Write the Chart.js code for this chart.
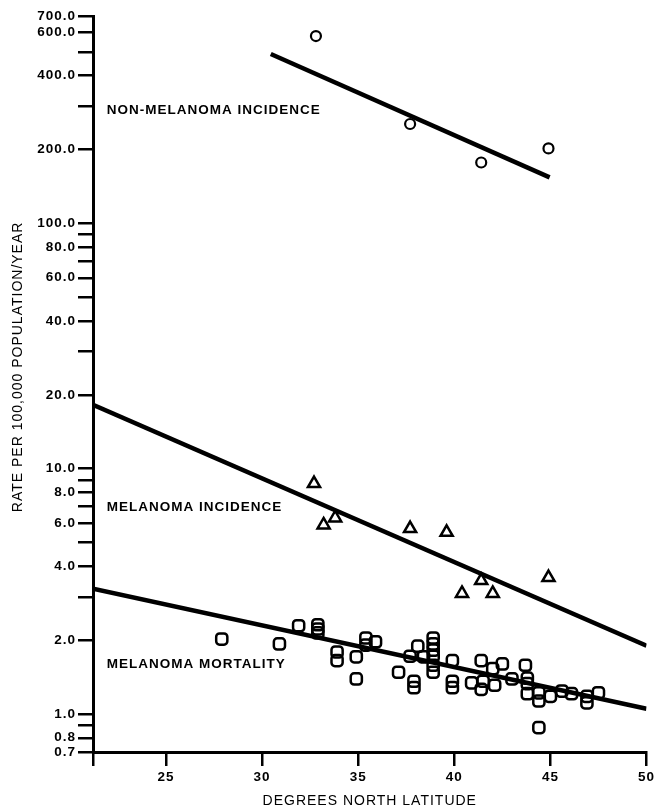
<!DOCTYPE html>
<html>
<head>
<meta charset="utf-8">
<script src="https://cdn.jsdelivr.net/npm/chart.js@4.4.1/dist/chart.umd.min.js"></script>
<style>
  html, body { margin: 0; padding: 0; background: #fff; }
  canvas { display: block; }
</style>
</head>
<body>
<canvas id="latChart" width="657" height="811"></canvas>
<script>
// non-melanoma incidence (circles)
var circleLat = [32.8, 37.7, 41.4, 44.9];
var circleRate = [580, 254, 177, 202];

// melanoma incidence (triangles)
var triLat = [32.7, 33.8, 33.2, 37.7, 39.6, 41.4, 40.4, 42.0, 44.9];
var triRate = [8.7, 6.3, 5.9, 5.7, 5.5, 3.5, 3.1, 3.1, 3.6];

// melanoma mortality (squares)
var sqLat = [27.9, 30.9, 31.9, 32.9, 32.9, 32.9, 33.9, 33.9, 34.9, 34.9,
             35.4, 35.4, 35.9, 37.1, 37.7, 37.9, 37.9, 38.1, 38.4, 38.9,
             38.9, 38.9, 38.9, 38.9, 38.9, 39.9, 39.9, 39.9, 40.9, 41.4,
             41.4, 41.5, 42.0, 42.1, 42.5, 43.0, 43.7, 43.8, 43.8, 43.8,
             44.4, 44.4, 44.4, 45.0, 45.6, 46.1, 46.9, 46.9, 47.5];
var sqRate = [2.02, 1.93, 2.29, 2.31, 2.22, 2.14, 1.79, 1.65, 1.71, 1.39,
              2.04, 1.91, 1.97, 1.48, 1.72, 1.36, 1.28, 1.89, 1.71, 2.04,
              1.93, 1.82, 1.72, 1.58, 1.48, 1.65, 1.36, 1.28, 1.34, 1.65,
              1.26, 1.36, 1.53, 1.31, 1.60, 1.39, 1.58, 1.40, 1.33, 1.21,
              1.22, 1.13, 0.88, 1.18, 1.24, 1.21, 1.18, 1.11, 1.22];

// fitted lines (end points)
var fitNonMelLat = [30.45, 44.96];
var fitNonMelRate = [490, 154];
var fitMelIncLat = [21.2, 50];
var fitMelIncRate = [18.2, 1.9];
var fitMelMortLat = [21.2, 50];
var fitMelMortRate = [3.24, 1.05];

// axes
var xMin = 21.2, xMax = 50;
var xTicks = [21.2, 25, 30, 35, 40, 45, 50];
var yMin = 0.7, yMax = 700;
var yTicks = [0.7, 0.8, 0.9, 1, 2, 3, 4, 5, 6, 7, 8, 9, 10, 20, 30, 40, 50, 60, 70, 80, 90,
              100, 200, 300, 400, 500, 600, 700];
var yLabeled = [0.7, 0.8, 1, 2, 4, 6, 8, 10, 20, 40, 60, 80, 100, 200, 400, 600, 700];

// text labels inside the plot
var seriesNames = ['NON-MELANOMA INCIDENCE', 'MELANOMA INCIDENCE', 'MELANOMA MORTALITY'];
var nameLat = [21.92, 21.92, 21.92];
var nameRate = [289, 6.93, 1.6];

function pts(xs, ys) {
    var out = [];
    for (let i = 0; i < xs.length; i++) {
        out.push({x: xs[i], y: ys[i]});
    }
    return out;
}

Chart.defaults.font.family = '"Liberation Sans", Arial, Helvetica, sans-serif';
Chart.defaults.color = '#000';

var spacing = {
    id: 'spacing',
    beforeDraw: function(chart) {
        chart.ctx.save();
        chart.ctx.letterSpacing = '1px';
    },
    afterDraw: function(chart) {
        chart.ctx.restore();
    }
};

var seriesText = {
    id: 'seriesText',
    afterDatasetsDraw: function(chart) {
        var ctx = chart.ctx;
        var xs = chart.scales.x, ys = chart.scales.y;
        ctx.save();
        ctx.letterSpacing = '1px';
        ctx.fillStyle = '#000';
        ctx.font = 'bold 13.5px "Liberation Sans", Arial, sans-serif';
        ctx.textAlign = 'left';
        ctx.textBaseline = 'middle';
        for (let i = 0; i < seriesNames.length; i++) {
            ctx.fillText(seriesNames[i], xs.getPixelForValue(nameLat[i]), ys.getPixelForValue(nameRate[i]));
        }
        ctx.restore();
    }
};

var lineStyle = {
    showLine: true,
    borderColor: '#000',
    borderWidth: 4.5,
    pointRadius: 0,
    fill: false
};

var ctx = document.getElementById('latChart');
var myChart = new Chart(ctx, {
    type: 'scatter',
    data: {
        datasets: [
            Object.assign({data: pts(fitNonMelLat, fitNonMelRate)}, lineStyle),
            Object.assign({data: pts(fitMelIncLat, fitMelIncRate)}, lineStyle),
            Object.assign({data: pts(fitMelMortLat, fitMelMortRate)}, lineStyle),
            {
                data: pts(circleLat, circleRate),
                pointStyle: 'circle',
                pointRadius: 5,
                pointBorderWidth: 2.2,
                pointBorderColor: '#000',
                pointBackgroundColor: 'rgba(255,255,255,0)'
            },
            {
                data: pts(triLat, triRate),
                pointStyle: 'triangle',
                pointRadius: 7,
                pointBorderWidth: 2.5,
                pointBorderColor: '#000',
                pointBackgroundColor: 'rgba(255,255,255,0)'
            },
            {
                data: pts(sqLat, sqRate),
                pointStyle: 'rectRounded',
                pointRadius: 6.5,
                pointBorderWidth: 2.5,
                pointBorderColor: '#000',
                pointBackgroundColor: 'rgba(255,255,255,0)'
            }
        ]
    },
    options: {
        responsive: false,
        animation: false,
        layout: {
            padding: {top: 16, right: 7, left: 0, bottom: 0}
        },
        plugins: {
            legend: {display: false},
            tooltip: {enabled: false}
        },
        scales: {
            x: {
                type: 'linear',
                min: xMin,
                max: xMax,
                afterBuildTicks: function(scale) {
                    scale.ticks = xTicks.map(function(v) { return {value: v}; });
                },
                afterFit: function(scale) {
                    scale.height = 59;
                },
                border: {display: true, color: '#000', width: 3},
                grid: {
                    drawOnChartArea: false,
                    drawTicks: true,
                    tickLength: 14,
                    color: '#000',
                    lineWidth: 2.5
                },
                ticks: {
                    autoSkip: false,
                    maxRotation: 0,
                    padding: 3,
                    font: {size: 13.5, weight: 'bold'},
                    callback: function(v) {
                        return v === xMin ? '' : String(v);
                    }
                },
                title: {
                    display: true,
                    text: 'DEGREES NORTH LATITUDE',
                    font: {size: 14},
                    padding: {top: 0, bottom: 1}
                }
            },
            y: {
                type: 'logarithmic',
                min: yMin,
                max: yMax,
                afterBuildTicks: function(scale) {
                    scale.ticks = yTicks.map(function(v) { return {value: v}; });
                },
                afterFit: function(scale) {
                    scale.width = 93;
                },
                border: {display: true, color: '#000', width: 3},
                grid: {
                    drawOnChartArea: false,
                    drawTicks: true,
                    tickLength: 15,
                    color: '#000',
                    lineWidth: 2.5
                },
                ticks: {
                    autoSkip: false,
                    padding: 2,
                    font: {size: 13.5, weight: 'bold'},
                    callback: function(v) {
                        return yLabeled.indexOf(v) >= 0 ? v.toFixed(1) : '';
                    }
                },
                title: {
                    display: true,
                    // leading spaces nudge the rotated title up, as in the original
                    text: '       RATE PER 100,000 POPULATION/YEAR',
                    font: {size: 14},
                    padding: {top: 10, bottom: 0}
                }
            }
        }
    },
    plugins: [spacing, seriesText]
});
</script>
</body>
</html>
